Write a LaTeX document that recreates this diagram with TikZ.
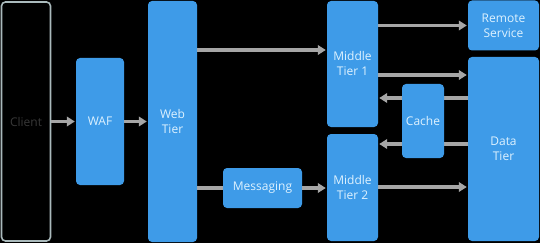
\documentclass[tikz,border=0pt]{standalone}
\usepackage{fontspec}
\setmainfont{Open Sans}
\usetikzlibrary{arrows.meta,positioning}

\definecolor{tierblue}{RGB}{62,155,232}
\definecolor{flowgray}{RGB}{166,166,166}
\definecolor{clientline}{RGB}{170,186,188}
\definecolor{labelfg}{RGB}{222,242,255}

\begin{document}
\begin{tikzpicture}[
      x=1pt, y=-1pt,
      >={Triangle[length=8pt,width=9.5pt]},
      tier/.style={fill=tierblue, rounded corners=4pt, inner sep=0pt, align=center,
        text=labelfg, font=\fontsize{12}{15}\selectfont},
      client/.style={draw=clientline, line width=1.6pt, rounded corners=4pt, inner sep=0pt,
        text=black!78, font=\fontsize{12}{15}\selectfont},
      flow/.style={draw=flowgray, line width=3.5pt, shorten >=1pt},
      arr/.style={flow, ->}]
    % background and frame
    \fill[black] (0,0) rectangle (540,243);
    \useasboundingbox (0,0) rectangle (540,243);
    % Left part: client, firewall, web tier
    \node[client, minimum width=49pt, minimum height=239pt] (client) at (26,121.5) {Client};
    \node[tier, minimum width=48pt, minimum height=127pt] (waf) at (100,121.5) {WAF};
    \node[tier, minimum width=49pt, minimum height=241pt] (web) at (172.5,121.5) {Web\\Tier};
    % Middle part
    \node[tier, minimum width=51pt, minimum height=126pt] (mid1) at (352.5,64) {Middle\\Tier 1};
    \node[tier, minimum width=51pt, minimum height=107pt] (mid2) at (352.5,187.5) {Middle\\Tier 2};
    \node[tier, minimum width=79pt, minimum height=40pt] (msg) at (262.5,188) {Messaging};
    % Right part
    \node[tier, minimum width=71pt, minimum height=50pt] (remote) at (503.5,25.5) {Remote\\Service};
    \node[tier, minimum width=71pt, minimum height=184pt] (data) at (503.5,149) {Data\\Tier};
    % Arrows
    \draw[arr] (client) -- (waf);
    \draw[arr] (waf) -- (web);
    \draw[arr] (web.east |- 0,50) -- (mid1.west |- 0,50);
    \draw[flow, shorten >=0pt] (web.east |- msg) -- (msg.west);
    \draw[arr] (msg) -- (mid2.west |- msg);
    \draw[arr] (mid1.east |- remote) -- (remote.west);
    \draw[arr] (mid1.east |- 0,75) -- (data.west |- 0,75);
    \draw[arr] (data.west |- 0,98) -- (mid1.east |- 0,98);
    \draw[arr] (data.west |- 0,144) -- (mid2.east |- 0,144);
    \draw[arr] (mid2.east |- 0,187) -- (data.west |- 0,187);
    % Cache sits on top of the two return arrows
    \node[tier, minimum width=42pt, minimum height=74pt] (cache) at (423,121) {Cache};
  \end{tikzpicture}
\end{document}
